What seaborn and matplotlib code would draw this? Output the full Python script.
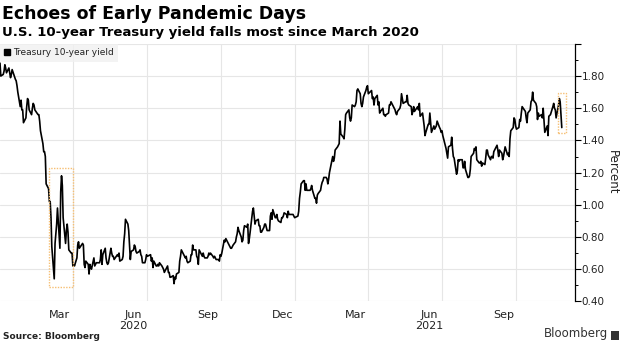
import numpy as np
import pandas as pd
import matplotlib
matplotlib.use("Agg")
import matplotlib.pyplot as plt
import matplotlib.ticker as mticker
from matplotlib.lines import Line2D
from matplotlib.patches import Rectangle
import seaborn as sns

# --- data: US Treasury 10-year yield, daily closes (percent) ---
# Bond-market holidays, removed from the business-day calendar
market_holidays = [
    "2020-01-01", "2020-01-20", "2020-02-17", "2020-04-10", "2020-05-25",
    "2020-07-03", "2020-09-07", "2020-10-12", "2020-11-11", "2020-11-26",
    "2020-12-25", "2021-01-01", "2021-01-18", "2021-02-15", "2021-04-02",
    "2021-05-31", "2021-07-05", "2021-09-06", "2021-10-11", "2021-11-11",
    "2021-11-25",
]
first_day = "2020-01-02"
last_day = "2021-11-26"

q1_2020 = [
    # Jan
    1.88, 1.80, 1.81, 1.83, 1.87, 1.85, 1.82, 1.85, 1.82, 1.79, 1.81, 1.84,
    1.78, 1.77, 1.74, 1.70, 1.61, 1.65, 1.59, 1.59, 1.51,
    # Feb
    1.54, 1.61, 1.66, 1.65, 1.59, 1.56, 1.60, 1.63, 1.62, 1.59, 1.56, 1.56,
    1.52, 1.46, 1.38, 1.33, 1.33, 1.30, 1.13,
    # Mar
    1.10, 1.02, 1.02, 0.92, 0.74, 0.54, 0.76, 0.82, 0.88, 0.98, 0.73, 1.08,
    1.18, 1.12, 0.92, 0.76, 0.84, 0.88, 0.83, 0.72, 0.70, 0.70,
]
q2_2020 = [
    # Apr
    0.62, 0.63, 0.62, 0.67, 0.75, 0.77, 0.73, 0.76, 0.75, 0.63, 0.61, 0.65,
    0.63, 0.57, 0.63, 0.61, 0.60, 0.67, 0.62, 0.63, 0.64,
    # May
    0.64, 0.64, 0.66, 0.72, 0.63, 0.69, 0.73, 0.67, 0.64, 0.63, 0.64, 0.73,
    0.70, 0.68, 0.68, 0.66, 0.69, 0.68, 0.70, 0.65,
    # Jun
    0.66, 0.68, 0.77, 0.82, 0.91, 0.88, 0.84, 0.75, 0.66, 0.71, 0.72, 0.75,
    0.74, 0.71, 0.70, 0.71, 0.72, 0.69, 0.68, 0.64, 0.64, 0.66,
]
q3_2020 = [
    # Jul
    0.69, 0.68, 0.69, 0.65, 0.67, 0.61, 0.65, 0.62, 0.62, 0.63, 0.62, 0.64,
    0.62, 0.61, 0.60, 0.58, 0.59, 0.62, 0.58, 0.58, 0.55, 0.55,
    # Aug
    0.56, 0.51, 0.55, 0.54, 0.57, 0.58, 0.65, 0.68, 0.72, 0.71, 0.68, 0.67,
    0.68, 0.65, 0.64, 0.65, 0.69, 0.69, 0.75, 0.72, 0.72,
    # Sep
    0.68, 0.67, 0.63, 0.72, 0.68, 0.70, 0.68, 0.67, 0.67, 0.68, 0.70, 0.69,
    0.70, 0.68, 0.67, 0.68, 0.67, 0.66, 0.66, 0.65, 0.69,
]
q4_2020 = [
    # Oct
    0.68, 0.70, 0.78, 0.77, 0.79, 0.78, 0.77, 0.73, 0.73, 0.74, 0.75, 0.77,
    0.80, 0.82, 0.86, 0.84, 0.80, 0.77, 0.78, 0.84, 0.87,
    # Nov
    0.86, 0.88, 0.76, 0.79, 0.83, 0.96, 0.98, 0.88, 0.90, 0.91, 0.87, 0.87,
    0.83, 0.83, 0.86, 0.88, 0.88, 0.84, 0.84,
    # Dec
    0.93, 0.95, 0.91, 0.97, 0.92, 0.92, 0.94, 0.91, 0.90, 0.89, 0.92, 0.92,
    0.93, 0.95, 0.94, 0.92, 0.96, 0.94, 0.94, 0.94, 0.93, 0.92,
]
q1_2021 = [
    # Jan
    0.93, 0.96, 1.04, 1.08, 1.13, 1.15, 1.15, 1.09, 1.13, 1.09, 1.09, 1.10,
    1.12, 1.09, 1.04, 1.04, 1.01, 1.06, 1.07,
    # Feb
    1.09, 1.12, 1.14, 1.15, 1.17, 1.17, 1.16, 1.13, 1.16, 1.20, 1.30, 1.27,
    1.29, 1.34, 1.36, 1.37, 1.38, 1.52, 1.44,
    # Mar
    1.42, 1.41, 1.47, 1.56, 1.57, 1.59, 1.54, 1.52, 1.54, 1.62, 1.61, 1.62,
    1.64, 1.71, 1.72, 1.69, 1.63, 1.61, 1.63, 1.67, 1.71, 1.73, 1.74,
]
q2_2021 = [
    # Apr
    1.69, 1.71, 1.66, 1.67, 1.62, 1.66, 1.68, 1.62, 1.64, 1.57, 1.58, 1.60,
    1.56, 1.56, 1.55, 1.56, 1.57, 1.62, 1.62, 1.64, 1.63,
    # May
    1.60, 1.59, 1.57, 1.56, 1.58, 1.60, 1.62, 1.69, 1.66, 1.63, 1.64, 1.64,
    1.68, 1.63, 1.62, 1.61, 1.56, 1.58, 1.61, 1.58,
    # Jun
    1.61, 1.59, 1.63, 1.55, 1.57, 1.53, 1.49, 1.43, 1.45, 1.50, 1.50, 1.57,
    1.51, 1.45, 1.49, 1.47, 1.48, 1.49, 1.52, 1.48, 1.47, 1.45,
]
q3_2021 = [
    # Jul
    1.46, 1.43, 1.35, 1.32, 1.29, 1.36, 1.37, 1.42, 1.35, 1.30, 1.29, 1.19,
    1.21, 1.28, 1.27, 1.28, 1.28, 1.23, 1.23, 1.27, 1.22,
    # Aug
    1.17, 1.17, 1.18, 1.22, 1.30, 1.32, 1.35, 1.34, 1.36, 1.28, 1.26, 1.26,
    1.27, 1.24, 1.26, 1.25, 1.29, 1.34, 1.34, 1.31, 1.28, 1.30,
    # Sep
    1.30, 1.29, 1.33, 1.37, 1.34, 1.30, 1.34, 1.32, 1.28, 1.30, 1.33, 1.36,
    1.31, 1.32, 1.30, 1.41, 1.46, 1.48, 1.54, 1.53, 1.49,
]
q4_2021 = [
    # Oct
    1.47, 1.48, 1.53, 1.52, 1.57, 1.61, 1.58, 1.54, 1.51, 1.57, 1.59, 1.64,
    1.65, 1.70, 1.65, 1.63, 1.61, 1.53, 1.57, 1.55,
    # Nov
    1.56, 1.54, 1.60, 1.52, 1.45, 1.49, 1.43, 1.55, 1.56, 1.61, 1.63, 1.60,
    1.59, 1.54, 1.62, 1.66, 1.64, 1.48,
]

month_labels = ["Mar", "Jun", "Sep", "Dec", "Mar", "Jun", "Sep"]
month_label_dates = ["2020-03-16", "2020-06-15", "2020-09-15", "2020-12-16",
                     "2021-03-16", "2021-06-15", "2021-09-15"]
month_boundaries = ["2020-04-01", "2020-07-01", "2020-10-01", "2021-01-01",
                    "2021-04-01", "2021-07-01", "2021-10-01"]
year_labels = ["2020", "2021"]
year_label_dates = ["2020-06-15", "2021-06-15"]
y_ticks = [0.40, 0.60, 0.80, 1.00, 1.20, 1.40, 1.60, 1.80, 2.00]

series_label = "Treasury 10-year yield"
title = "Echoes of Early Pandemic Days"
subtitle = "U.S. 10-year Treasury yield falls most since March 2020"

# --- assemble the frame ---
dates = pd.bdate_range(first_day, last_day, freq="C",
                       holidays=pd.to_datetime(market_holidays))
values = (q1_2020 + q2_2020 + q3_2020 + q4_2020 +
          q1_2021 + q2_2021 + q3_2021 + q4_2021)
if len(values) != len(dates):
    raise ValueError(f"{len(values)} values for {len(dates)} trading days")
df = pd.DataFrame({"date": dates, "yield": values})

# --- styling ---
sns.set_theme(style="white")
plt.rcParams["font.family"] = ["DejaVu Sans"]
grid_col = "#e6e6e6"
text_col = "#222222"

fig = plt.figure(figsize=(6.2, 3.48), dpi=100)
fig.patch.set_facecolor("white")
ax = fig.add_axes([0.0, 0.134, 0.927, 0.740])

sns.lineplot(data=df, x="date", y="yield", ax=ax, color="black",
             linewidth=1.2, legend=False)

ax.set_xlim(pd.Timestamp("2020-01-02"), pd.Timestamp("2021-12-12"))
ax.set_ylim(0.40, 2.00)
ax.set_xlabel("")
ax.yaxis.tick_right()
ax.yaxis.set_label_position("right")
ax.set_ylabel("Percent", fontsize=8.5, color=text_col, rotation=270,
              rotation_mode="anchor", ha="center", va="center")
ax.yaxis.set_label_coords(1.065, 0.5)

for side in ("top", "left", "bottom"):
    ax.spines[side].set_visible(False)
ax.spines["right"].set_color("black")
ax.spines["right"].set_linewidth(0.9)

# y axis: labelled majors, unlabelled minors
ax.set_yticks(y_ticks)
ax.set_yticklabels([f"{v:.2f}" if v < 1.99 else "" for v in y_ticks])
ax.yaxis.set_minor_locator(mticker.MultipleLocator(0.1))
ax.tick_params(axis="y", which="major", length=4, width=0.8, color="black",
               labelsize=7.5, labelcolor=text_col, pad=1, right=True, left=False)
ax.tick_params(axis="y", which="minor", length=2, width=0.7, color="black",
               right=True, left=False)

# x axis: gridlines on month boundaries, labels centred in the month
ax.set_xticks(pd.to_datetime(month_boundaries))
ax.set_xticklabels([])
ax.set_xticks(pd.to_datetime(month_label_dates), minor=True)
ax.set_xticklabels(month_labels, minor=True)
ax.tick_params(axis="x", which="both", length=0, labelsize=8,
               labelcolor=text_col, pad=6)
for d, lab in zip(year_label_dates, year_labels):
    ax.text(pd.Timestamp(d), -0.097, lab, transform=ax.get_xaxis_transform(),
            ha="center", va="center", fontsize=8, color=text_col)

ax.grid(True, which="major", axis="both", color=grid_col, linewidth=0.8)
ax.set_axisbelow(True)

# highlight boxes around the March 2020 swing and the latest drop
def highlight(start, end, pad_before, pad_after, pad_y):
    window = df[(df["date"] >= start) & (df["date"] <= end)]
    x0 = pd.Timestamp(start) - pd.Timedelta(days=pad_before)
    x1 = pd.Timestamp(end) + pd.Timedelta(days=pad_after)
    y0 = window["yield"].min() - pad_y
    y1 = window["yield"].max() + pad_y
    ax.add_patch(Rectangle((x0, y0), x1 - x0, y1 - y0, fill=False,
                           edgecolor="#f6bf73", linewidth=1.0,
                           linestyle=(0, (1, 1)), zorder=3))

highlight("2020-03-02", "2020-03-31", 0, 1, 0.05)
highlight("2021-11-22", "2021-11-26", 1, 5, 0.035)

# legend chip
handle = Line2D([], [], marker="s", color="black", linestyle="", markersize=4)
leg = ax.legend([handle], [series_label], loc="upper left",
                bbox_to_anchor=(0.0, 1.0), borderaxespad=0.0, frameon=True,
                fontsize=6.5, handlelength=0.6, handletextpad=0.3,
                borderpad=0.5, fancybox=False)
leg.get_frame().set_facecolor("#f1f1f1")
leg.get_frame().set_edgecolor("none")
for t in leg.get_texts():
    t.set_color(text_col)

# titles and footer
fig.text(0.003, 0.985, title, ha="left", va="top", fontsize=12.5,
         fontweight="bold", color="black")
fig.text(0.003, 0.925, subtitle, ha="left", va="top", fontsize=9.5,
         fontweight="bold", color="black")
fig.text(0.005, 0.02, "Source: Bloomberg", ha="left", va="bottom",
         fontsize=6.5, fontweight="bold", color=text_col)
fig.text(0.981, 0.022, "Bloomberg", ha="right", va="bottom",
         fontsize=8.5, color="#333333")
fig.patches.append(Rectangle((0.985, 0.022), 0.014, 0.026,
                             transform=fig.transFigure, facecolor="#333333",
                             edgecolor="none"))

fig.savefig("out.png", dpi=100, facecolor="white")
